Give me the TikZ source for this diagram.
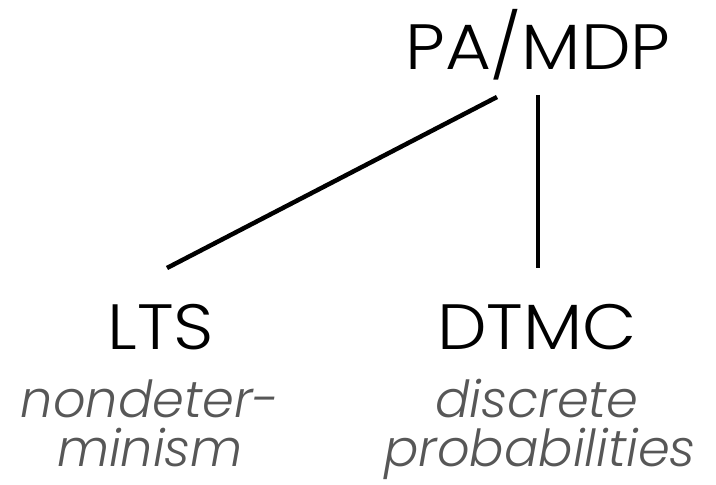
\documentclass[tikz,border=0pt]{standalone}
\usepackage{fontspec}
\setmainfont{Poppins}[UprightFont=* Light, ItalicFont=* Light Italic]
\newfontfamily\modelfont{Poppins}[UprightFont=* Light, FakeStretch=1.1]
\begin{document}
\begin{tikzpicture}[x=1pt,y=1pt,
  model/.style={inner sep=0pt, anchor=base, font=\modelfont\fontsize{64}{64}\selectfont},
  note/.style={inner sep=0pt, anchor=base, text=black!66, font=\fontsize{51}{51}\selectfont\itshape},
  edge/.style={line width=4.5pt, draw=black}]
\useasboundingbox (0,0) rectangle (716,485);
% model classes
\node[model] (pa) at (538,415) {PA/MDP};
\node[model] (lts) at (161,135) {LTS};
\node[model] (dtmc) at (537,135) {DTMC};
% descriptions
\node[note] (lts1) at (150,67) {nondeter-};
\node[note] (lts2) at (150,18) {minism};
\node[note] (dtmc1) at (537,67) {discrete};
\node[note] (dtmc2) at (540,18) {probabilities};
% connector ends
\coordinate (pa-l) at (497,388);
\coordinate (pa-r) at (538,390);
\coordinate (lts-t) at (167,217);
\coordinate (dtmc-t) at (538,217);
\draw[edge] (pa-l) -- (lts-t);
\draw[edge] (pa-r) -- (dtmc-t);
\end{tikzpicture}
\end{document}
